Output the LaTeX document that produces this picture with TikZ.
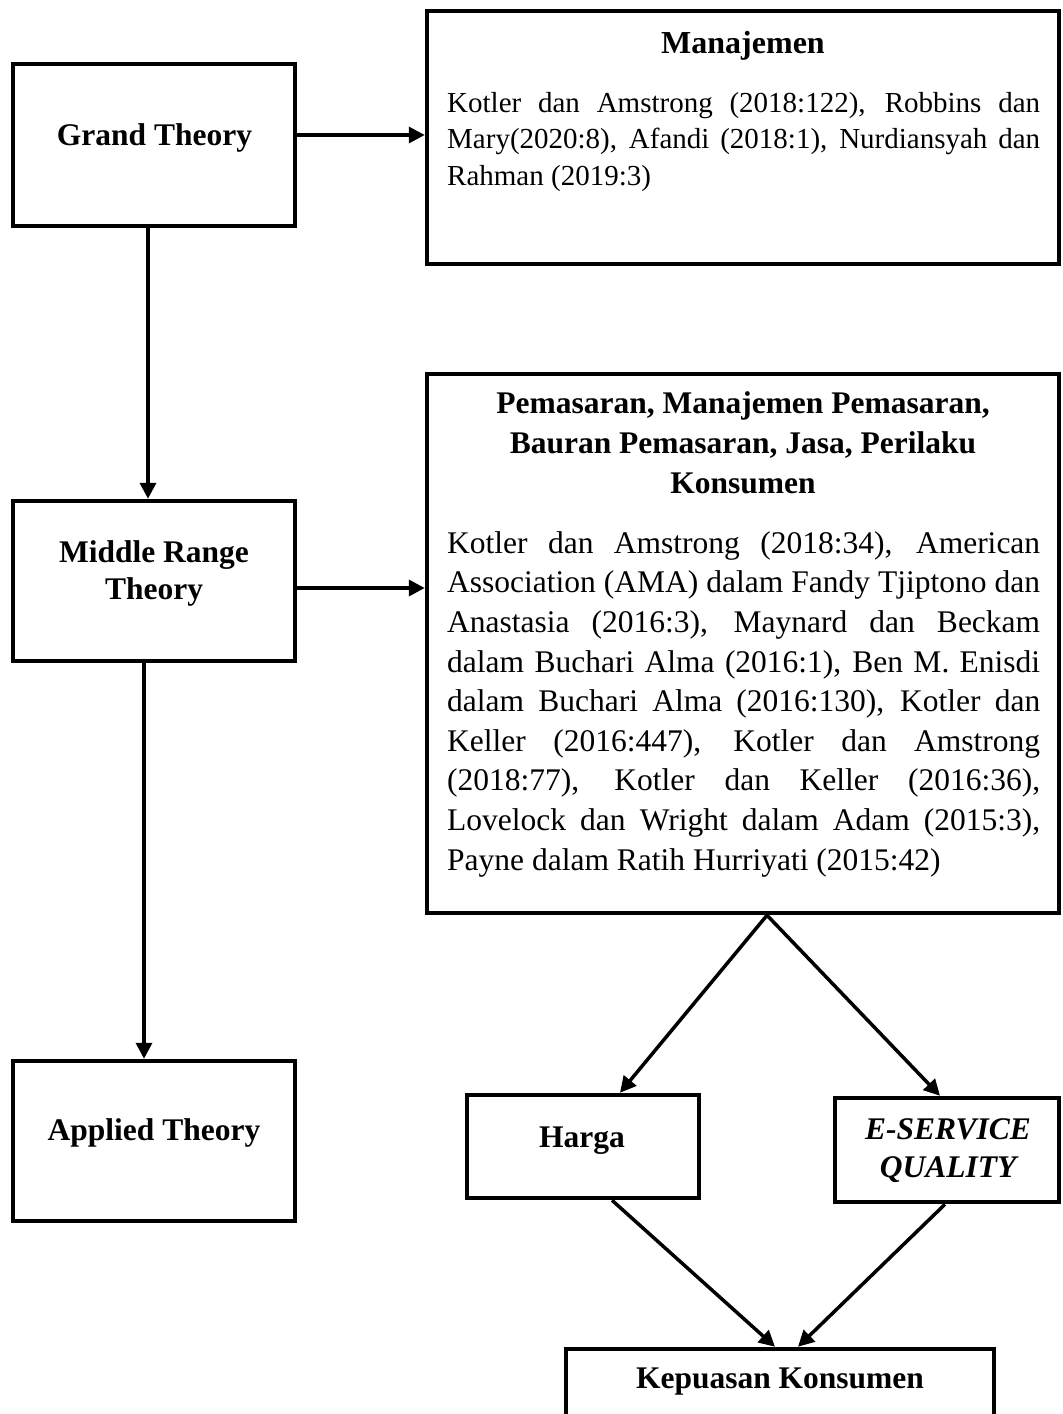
\documentclass[tikz,border=0pt]{standalone}
\usepackage{fontspec}
\setmainfont{Liberation Serif}
\usetikzlibrary{arrows.meta}
\tikzset{
  box/.style={draw=black, line width=4.5pt, fill=white, inner sep=0pt, rectangle},
  arr/.style={line width=3.5pt, -{Triangle[length=16pt,width=16pt]}},
  lbl/.style={inner sep=0pt, anchor=base, font=\fontsize{31.5pt}{38pt}\selectfont\bfseries},
  body/.style={inner sep=0pt, anchor=north west, align=left}
}
\begin{document}
\begin{tikzpicture}[x=1pt,y=-1pt]
\useasboundingbox (0,0) rectangle (1063,1414);
\clip (0,0) rectangle (1063,1414);
\fill[white] (0,0) rectangle (1063,1414);

% boxes
\node[box, minimum width=282pt, minimum height=162pt] (gt) at (154,145) {};
\node[box, minimum width=632pt, minimum height=253pt] (man) at (743,137.5) {};
\node[box, minimum width=282pt, minimum height=160pt] (mr) at (154,581) {};
\node[box, minimum width=632pt, minimum height=539pt] (pem) at (743,643.5) {};
\node[box, minimum width=282pt, minimum height=160pt] (at) at (154,1141) {};
\node[box, minimum width=232pt, minimum height=103pt] (harga) at (583,1146.5) {};
\node[box, minimum width=224pt, minimum height=104pt] (es) at (947,1150) {};
\node[box, minimum width=428pt, minimum height=110pt] (kep) at (780,1404) {};

% labels
\node[lbl] (gtt) at (154.5,145) {Grand Theory};
\node[lbl] (mrt1) at (154,562) {Middle Range};
\node[lbl] (mrt2) at (154,599) {Theory};
\node[lbl] (att) at (154,1140) {Applied Theory};
\node[lbl] (hargat) at (582,1147) {Harga};
\node[lbl, font=\fontsize{31.5pt}{38pt}\selectfont\bfseries\itshape] (est1) at (948,1139) {E-SERVICE};
\node[lbl, font=\fontsize{31.5pt}{38pt}\selectfont\bfseries\itshape] (est2) at (948,1177) {QUALITY};
\node[lbl] (kept) at (780,1388) {Kepuasan Konsumen};

\node[lbl, font=\fontsize{32pt}{38pt}\selectfont\bfseries] (mant) at (743,53) {Manajemen};
\node[lbl] (pemt1) at (743,413) {Pemasaran, Manajemen Pemasaran,};
\node[lbl] (pemt2) at (743,453) {Bauran Pemasaran, Jasa, Perilaku};
\node[lbl] (pemt3) at (743,493) {Konsumen};

% paragraph texts
\node[body, font=\fontsize{29pt}{36.5pt}\selectfont] (manb) at (447,112-25.55) {%
\strut\makebox[593pt][s]{Kotler dan Amstrong (2018:122), Robbins dan}\\
\makebox[593pt][s]{Mary(2020:8), Afandi (2018:1), Nurdiansyah dan}\\
Rahman (2019:3)};

\node[body, font=\fontsize{31.5pt}{39.6pt}\selectfont] (pemb) at (447,553-27.72) {%
\strut\makebox[593pt][s]{Kotler dan Amstrong (2018:34), American}\\
\makebox[593pt][s]{Association (AMA) dalam Fandy Tjiptono dan}\\
\makebox[593pt][s]{Anastasia (2016:3), Maynard dan Beckam}\\
\makebox[593pt][s]{dalam Buchari Alma (2016:1), Ben M. Enisdi}\\
\makebox[593pt][s]{dalam Buchari Alma (2016:130), Kotler dan}\\
\makebox[593pt][s]{Keller (2016:447), Kotler dan Amstrong}\\
\makebox[593pt][s]{(2018:77), Kotler dan Keller (2016:36),}\\
\makebox[593pt][s]{Lovelock dan Wright dalam Adam (2015:3),}\\
Payne dalam Ratih Hurriyati (2015:42)};

% connectors
\draw[arr] ([yshift=10pt]gt.east) -- ([yshift=10pt]gt.east -| man.west);
\draw[arr] ([xshift=-6pt]gt.south) -- ([xshift=-6pt]mr.north);
\draw[arr] ([yshift=-7pt]mr.east) -- ([yshift=-7pt]mr.east -| pem.west);
\draw[arr] ([xshift=-10pt]mr.south) -- ([xshift=-10pt]at.north);
\draw[arr] ([xshift=24pt]pem.south) -- ([xshift=37pt]harga.north);
\draw[arr] ([xshift=24pt]pem.south) -- ([xshift=-7pt]es.north);
\draw[arr] ([xshift=29pt]harga.south) -- ([xshift=-5pt]kep.north);
\draw[arr] ([xshift=-2pt]es.south) -- ([xshift=18pt]kep.north);
\end{tikzpicture}
\end{document}
